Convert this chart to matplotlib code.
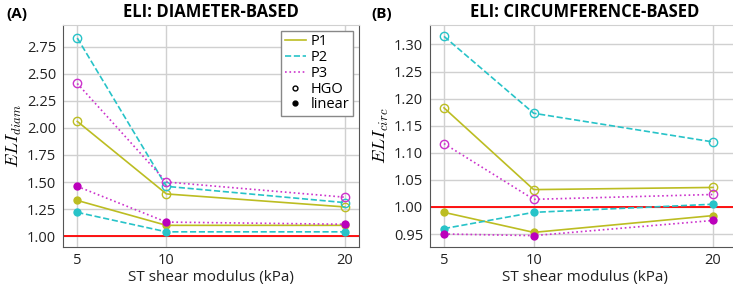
import matplotlib.pyplot as plt
from matplotlib.lines import Line2D

plt.rcParams['font.family'] = ['Open Sans', 'DejaVu Sans']
plt.rcParams['mathtext.fontset'] = 'cm'

x = [5, 10, 20]
series = ['P1', 'P2', 'P3']
colors = ['#bcbd22', '#27c3c8', '#cc33cc']
styles = ['-', '--', ':']

# diameter-based ELI
diam_hgo = [[2.06, 1.39, 1.27],
            [2.83, 1.46, 1.31],
            [2.41, 1.50, 1.36]]
diam_lin = [[1.33, 1.10, 1.10],
            [1.22, 1.04, 1.04],
            [1.46, 1.13, 1.11]]
# circumference-based ELI
circ_hgo = [[1.183, 1.032, 1.036],
            [1.315, 1.173, 1.120],
            [1.117, 1.014, 1.023]]
circ_lin = [[0.990, 0.953, 0.984],
            [0.960, 0.990, 1.005],
            [0.950, 0.947, 0.975]]

fig = plt.figure(figsize=(7.33, 2.91), dpi=100)
ax1 = fig.add_axes([63/733, 44/291, 296/733, 222/291])
ax2 = fig.add_axes([430/733, 44/291, 310/733, 222/291])


def draw(ax, hgo, lin, ylim, yticks, ylabel, title, tag):
    for i in range(3):
        ax.plot(x, hgo[i], color=colors[i], ls=styles[i], lw=1.2, marker='o',
                mfc='none', mec=colors[i], ms=6, zorder=3)
        ax.plot(x, lin[i], color=colors[i], ls=styles[i], lw=1.2, marker='o',
                mfc=colors[i] if i != 2 else '#bb00bb', mec='none', ms=6, zorder=3)
    ax.axhline(1.0, color='red', lw=1.3, zorder=2)
    ax.set_xlim(4.2, 20.8)
    ax.set_ylim(*ylim)
    ax.set_xticks(x)
    ax.set_yticks(yticks)
    ax.set_yticklabels(['{:.2f}'.format(v) for v in yticks])
    ax.grid(True, color='#d0d0d0', lw=1)
    ax.tick_params(length=0, labelsize=10.5, colors='#222222')
    ax.tick_params(axis='x', pad=4)
    ax.tick_params(axis='y', pad=5)
    ax.set_xlabel('ST shear modulus (kPa)', fontsize=11, color='#222222', labelpad=2)
    ax.set_ylabel(ylabel, fontsize=13, labelpad=2)
    ax.set_title(title, fontsize=12, fontweight='bold', pad=6)
    ax.text(-0.19, 1.03, tag, transform=ax.transAxes, fontsize=11, fontweight='bold')
    for s in ['left', 'bottom', 'right']:
        ax.spines[s].set_color('#555555')
    ax.spines['top'].set_color('#d0d0d0')


draw(ax1, diam_hgo, diam_lin, (0.9, 2.95), [1.0, 1.25, 1.5, 1.75, 2.0, 2.25, 2.5, 2.75],
     '$ELI_{diam}$', 'ELI: DIAMETER-BASED', '(A)')
draw(ax2, circ_hgo, circ_lin, (0.926, 1.336), [0.95, 1.0, 1.05, 1.1, 1.15, 1.2, 1.25, 1.3],
     '$ELI_{circ}$', 'ELI: CIRCUMFERENCE-BASED', '(B)')
ax2.set_xlim(4.22, 21.5)

handles = [Line2D([], [], color=colors[i], ls=styles[i], lw=1.2) for i in range(3)]
handles += [Line2D([], [], ls='none', marker='o', mfc='none', mec='black', ms=3.5),
            Line2D([], [], ls='none', marker='o', mfc='black', mec='black', ms=3.5)]
ax1.legend(handles, series + ['HGO', 'linear'], loc='upper right', fontsize=10.5,
           fancybox=False, edgecolor='#888888', framealpha=1, handlelength=1.5,
           handletextpad=0.3, labelspacing=0.05, borderpad=0.25, borderaxespad=0.4)

fig.savefig('out.png', dpi=100)
